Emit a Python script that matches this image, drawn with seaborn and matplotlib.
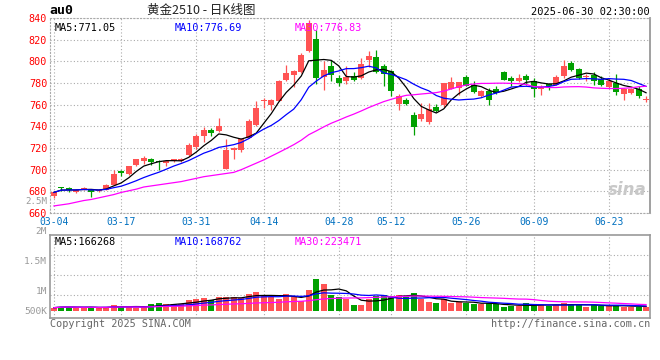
import numpy as np
import pandas as pd
import matplotlib
matplotlib.use("Agg")
import matplotlib.pyplot as plt
import seaborn as sns

# trading days 2025-03-04 .. 2025-06-30
mar = [4, 5, 6, 7, 10, 11, 12, 13, 14, 17, 18, 19, 20, 21, 24, 25, 26, 27, 28, 31]
apr = [1, 2, 3, 7, 8, 9, 10, 11, 14, 15, 16, 17, 18, 21, 22, 23, 24, 25, 28, 29, 30]
may = [6, 7, 8, 9, 12, 13, 14, 15, 16, 19, 20, 21, 22, 23, 26, 27, 28, 29, 30]
jun = [3, 4, 5, 6, 9, 10, 11, 12, 13, 16, 17, 18, 19, 20, 23, 24, 25, 26, 27, 30]
days = (["03-%02d" % d for d in mar] + ["04-%02d" % d for d in apr]
        + ["05-%02d" % d for d in may] + ["06-%02d" % d for d in jun])

open_ = [675.5, 684, 683.4, 679, 681.8, 681.5, 680, 681.5, 686, 698.5,
         696, 704.6, 707.7, 710, 708.3, 705.8, 707.7, 707.7, 714, 720.8,
         731, 737, 735.4, 700.8, 718, 718, 729.5, 741.5, 763.3, 759.4,
         763.7, 783, 787.7, 790, 810, 821, 786, 796, 785, 782,
         786.8, 784.6, 801.5, 803.7, 796, 790.8, 760.6, 764.6, 750, 747,
         743.7, 757.5, 760, 774.8, 775.4, 786, 777.8, 768.3, 773, 774,
         789.8, 784.3, 782, 786.8, 781.5, 774.8, 779.4, 778.5, 786.8, 798.5,
         793, 785.7, 787.7, 784, 776.6, 780, 769.8, 770.8, 774.8, 764.2]
close = [679, 683.2, 681.5, 681.5, 683.4, 679.4, 680.4, 686, 696, 697.2,
         703, 709.5, 710.8, 706.8, 706.8, 707.7, 709.5, 710, 723, 730.9,
         737, 734, 740, 718.6, 720, 728.5, 744.6, 757, 763.8, 764.6,
         782, 789, 791, 805.5, 835, 785, 792, 787, 780, 786,
         782.5, 797.5, 804.6, 790, 788, 772.3, 768, 761, 739, 751.7,
         756, 753.8, 780, 780.6, 780.6, 777.5, 771.4, 773, 764, 770.5,
         783, 782, 784.6, 783, 774.8, 776, 777, 786, 795.7, 792.3,
         785, 786.5, 782, 778.5, 781.5, 771.7, 774.8, 774.8, 768.3, 765]
high = [680, 684.2, 683.6, 682.5, 684, 682, 681, 687, 700, 699.7,
        703.5, 710, 712.7, 710.5, 708.6, 708, 710, 711.2, 725, 733,
        739, 738.5, 748, 728.5, 720.5, 729, 747, 763, 766, 765.5,
        783, 797, 792, 808, 838, 829, 800, 801.5, 787.5, 795.5,
        790, 803, 810, 810.7, 797.5, 792, 770, 766, 753, 761.5,
        762, 760.5, 780.3, 786, 781, 787.5, 781.5, 774, 775.4, 777,
        791, 786.8, 788.6, 788.3, 784.6, 778.5, 780, 787, 801.5, 800.7,
        793.5, 788.3, 789.8, 786.2, 784.6, 788, 775.4, 775.4, 777, 768.3]
low = [674, 680, 679, 678.5, 681, 675, 679.5, 681, 685.5, 694,
       695.5, 703.5, 705.5, 704.6, 700, 703, 707, 707, 713, 719.5,
       726, 731, 735, 700.5, 710, 716.3, 729, 740.5, 757, 755,
       763, 782, 776.6, 789, 809, 779, 774, 782, 777, 779,
       781.5, 784, 795, 789, 777, 767.7, 755.4, 760, 732, 745,
       742.5, 753, 757.5, 774.5, 769, 777, 770.5, 767, 759.4, 769.5,
       782.5, 776.9, 781, 778.4, 766.8, 769, 773.8, 778, 784.6, 791,
       784, 782, 778, 777, 775.4, 769.2, 764.6, 770.2, 766, 762.5]
# volume in thousands
volume = [118, 153, 153, 118, 118, 141, 94, 153, 212, 153,
          153, 118, 129, 247, 282, 247, 247, 247, 388, 424,
          459, 388, 494, 494, 494, 459, 600, 671, 529, 494,
          424, 600, 529, 353, 741, 1129, 953, 565, 494, 424,
          212, 212, 412, 529, 565, 529, 565, 494, 635, 424,
          329, 282, 424, 282, 318, 282, 247, 247, 282, 247,
          141, 176, 176, 282, 212, 212, 176, 212, 282, 247,
          212, 153, 212, 176, 176, 212, 153, 153, 153, 153]
# MA30 before a full 30-day window exists
ma30_head = [666.5, 667.5, 668.5, 670, 671.5, 672.5, 674, 675.5, 677, 679,
             680.5, 682, 684, 685, 686, 687, 688, 689, 690.5, 692,
             693.5, 694.5, 695.5, 696.5, 697.5, 700, 703, 706, 709]

tick_labels = ["03-04", "03-17", "03-31", "04-14", "04-28", "05-12", "05-26", "06-09", "06-23"]
price_ticks = [660, 680, 700, 720, 740, 760, 780, 800, 820, 840]
vol_labels = ["2M", "1.5M", "1M", "500K"]

RED = "#ff5353"
GREEN = "#00a000"
GRID = "#aaaaaa"

df = pd.DataFrame({"open": open_, "high": high, "low": low, "close": close, "vol": volume})
df["x"] = np.arange(len(df))
df["ma5"] = df["close"].rolling(5, min_periods=1).mean()
df["ma10"] = df["close"].rolling(10, min_periods=1).mean()
df["ma30"] = df["close"].rolling(30).mean()
df.loc[:len(ma30_head) - 1, "ma30"] = ma30_head
df["v5"] = df["vol"].rolling(5, min_periods=1).mean()
df["v10"] = df["vol"].rolling(10, min_periods=1).mean()
df["v30"] = df["vol"].rolling(30, min_periods=1).mean()
up = df["close"] >= df["open"]
cols = np.where(up, RED, GREEN)

sns.set_style("white")
plt.rcParams["font.family"] = ["DejaVu Sans Mono", "Noto Sans CJK SC"]

fig = plt.figure(figsize=(6.6, 3.6), dpi=100)
ax = fig.add_axes([50 / 660, 1 - 213 / 360, 600 / 660, 195 / 360])
axv = fig.add_axes([50 / 660, 1 - 318 / 360, 600 / 660, 83 / 360])

xt = [days.index(d) for d in tick_labels]

# candles
ax.vlines(df["x"], df["low"], df["high"], colors=cols, lw=0.9, zorder=2)
body_bot = np.minimum(df["open"], df["close"])
body_h = np.maximum((df["close"] - df["open"]).abs(), 0.8)
ax.bar(df["x"], body_h, bottom=body_bot, width=0.74, color=cols, linewidth=0, zorder=3)
sns.lineplot(data=df, x="x", y="ma5", ax=ax, color="black", lw=0.9, zorder=4)
sns.lineplot(data=df, x="x", y="ma10", ax=ax, color="#0000ff", lw=0.9, zorder=4)
sns.lineplot(data=df, x="x", y="ma30", ax=ax, color="#ff00ff", lw=0.9, zorder=4)

ax.set_xlim(-0.5, 79.5)
ax.set_ylim(660, 840)
ax.set_yticks(price_ticks)
ax.set_yticklabels([str(p) for p in price_ticks], color="red", fontsize=7.3)
ax.set_xticks(xt)
ax.set_xticklabels(tick_labels, color="#0070c0", fontsize=7)
ax.tick_params(axis="y", length=0, pad=2)
ax.tick_params(axis="x", length=0, pad=3.2)
ax.set_xlabel("")
ax.set_ylabel("")
ax.grid(True, color=GRID, linestyle=(0, (1, 2)), lw=0.8)
for s in ["left", "top", "bottom"]:
    ax.spines[s].set_color(GRID)
    ax.spines[s].set_linestyle((0, (1, 2)))
ax.spines["right"].set_color("#999999")
ax.spines["right"].set_linewidth(1.3)

ax.text(0.008, 0.975, "MA5:771.05", transform=ax.transAxes, fontsize=7.3, color="black", va="top")
ax.text(0.207, 0.975, "MA10:776.69", transform=ax.transAxes, fontsize=7.3, color="#0000ff", va="top")
ax.text(0.407, 0.975, "MA30:776.83", transform=ax.transAxes, fontsize=7.3, color="#ff00ff", va="top")
ax.text(0.995, 0.07, "sina", transform=ax.transAxes, fontsize=12, color="#c8c8c8",
        ha="right", va="bottom", style="italic", weight="bold", family="DejaVu Sans")

# volume
axv.bar(df["x"], df["vol"], width=0.74, color=cols, linewidth=0, zorder=3)
sns.lineplot(data=df, x="x", y="v5", ax=axv, color="black", lw=0.9, zorder=4)
sns.lineplot(data=df, x="x", y="v10", ax=axv, color="#0000ff", lw=0.9, zorder=4)
sns.lineplot(data=df, x="x", y="v30", ax=axv, color="#ff00ff", lw=0.9, zorder=4)
v0, v1 = -247, 2686
axv.set_xlim(-0.5, 79.5)
axv.set_ylim(v0, v1)
axv.set_yticks([v0 + f * (v1 - v0) for f in [0.759, 0.518, 0.277]])
axv.set_yticklabels([])
axv.set_xticks(xt)
axv.set_xticklabels([])
axv.tick_params(length=0)
axv.set_xlabel("")
axv.set_ylabel("")
axv.grid(True, color=GRID, linestyle=(0, (1, 2)), lw=0.8)
for s in axv.spines.values():
    s.set_color("#999999")
    s.set_linewidth(1.2)

axv.text(0.008, 0.975, "MA5:166268", transform=axv.transAxes, fontsize=7.3, color="black", va="top")
axv.text(0.207, 0.975, "MA10:168762", transform=axv.transAxes, fontsize=7.3, color="#0000ff", va="top")
axv.text(0.407, 0.975, "MA30:223471", transform=axv.transAxes, fontsize=7.3, color="#ff00ff", va="top")

for lab, ypx in zip(vol_labels, [232, 261, 291, 311]):
    fig.text(47 / 660, 1 - ypx / 360, lab, ha="right", va="center", fontsize=6.8, color="#999999")
fig.text(47 / 660, 1 - 201 / 360, "2.5M", ha="right", va="center", fontsize=6.6, color="#999999")

# header / footer
fig.text(49 / 660, 1 - 11 / 360, "au0", fontsize=9.5, weight="bold", va="center", color="black")
fig.text(201 / 660, 1 - 10 / 360, "黄金2510 - 日K线图", fontsize=9, va="center", ha="center",
         family=["Noto Sans CJK SC", "DejaVu Sans"], color="#222222")
fig.text(650 / 660, 1 - 12 / 360, "2025-06-30 02:30:00", fontsize=7.5, va="center", ha="right", color="black")
fig.text(50 / 660, 1 - 324 / 360, "Copyright 2025 SINA.COM", fontsize=7.3, va="center", color="#666666")
fig.text(650 / 660, 1 - 324 / 360, "http://finance.sina.com.cn", fontsize=7.3, va="center", ha="right", color="#666666")

fig.savefig("out.png", dpi=100, facecolor="white")
